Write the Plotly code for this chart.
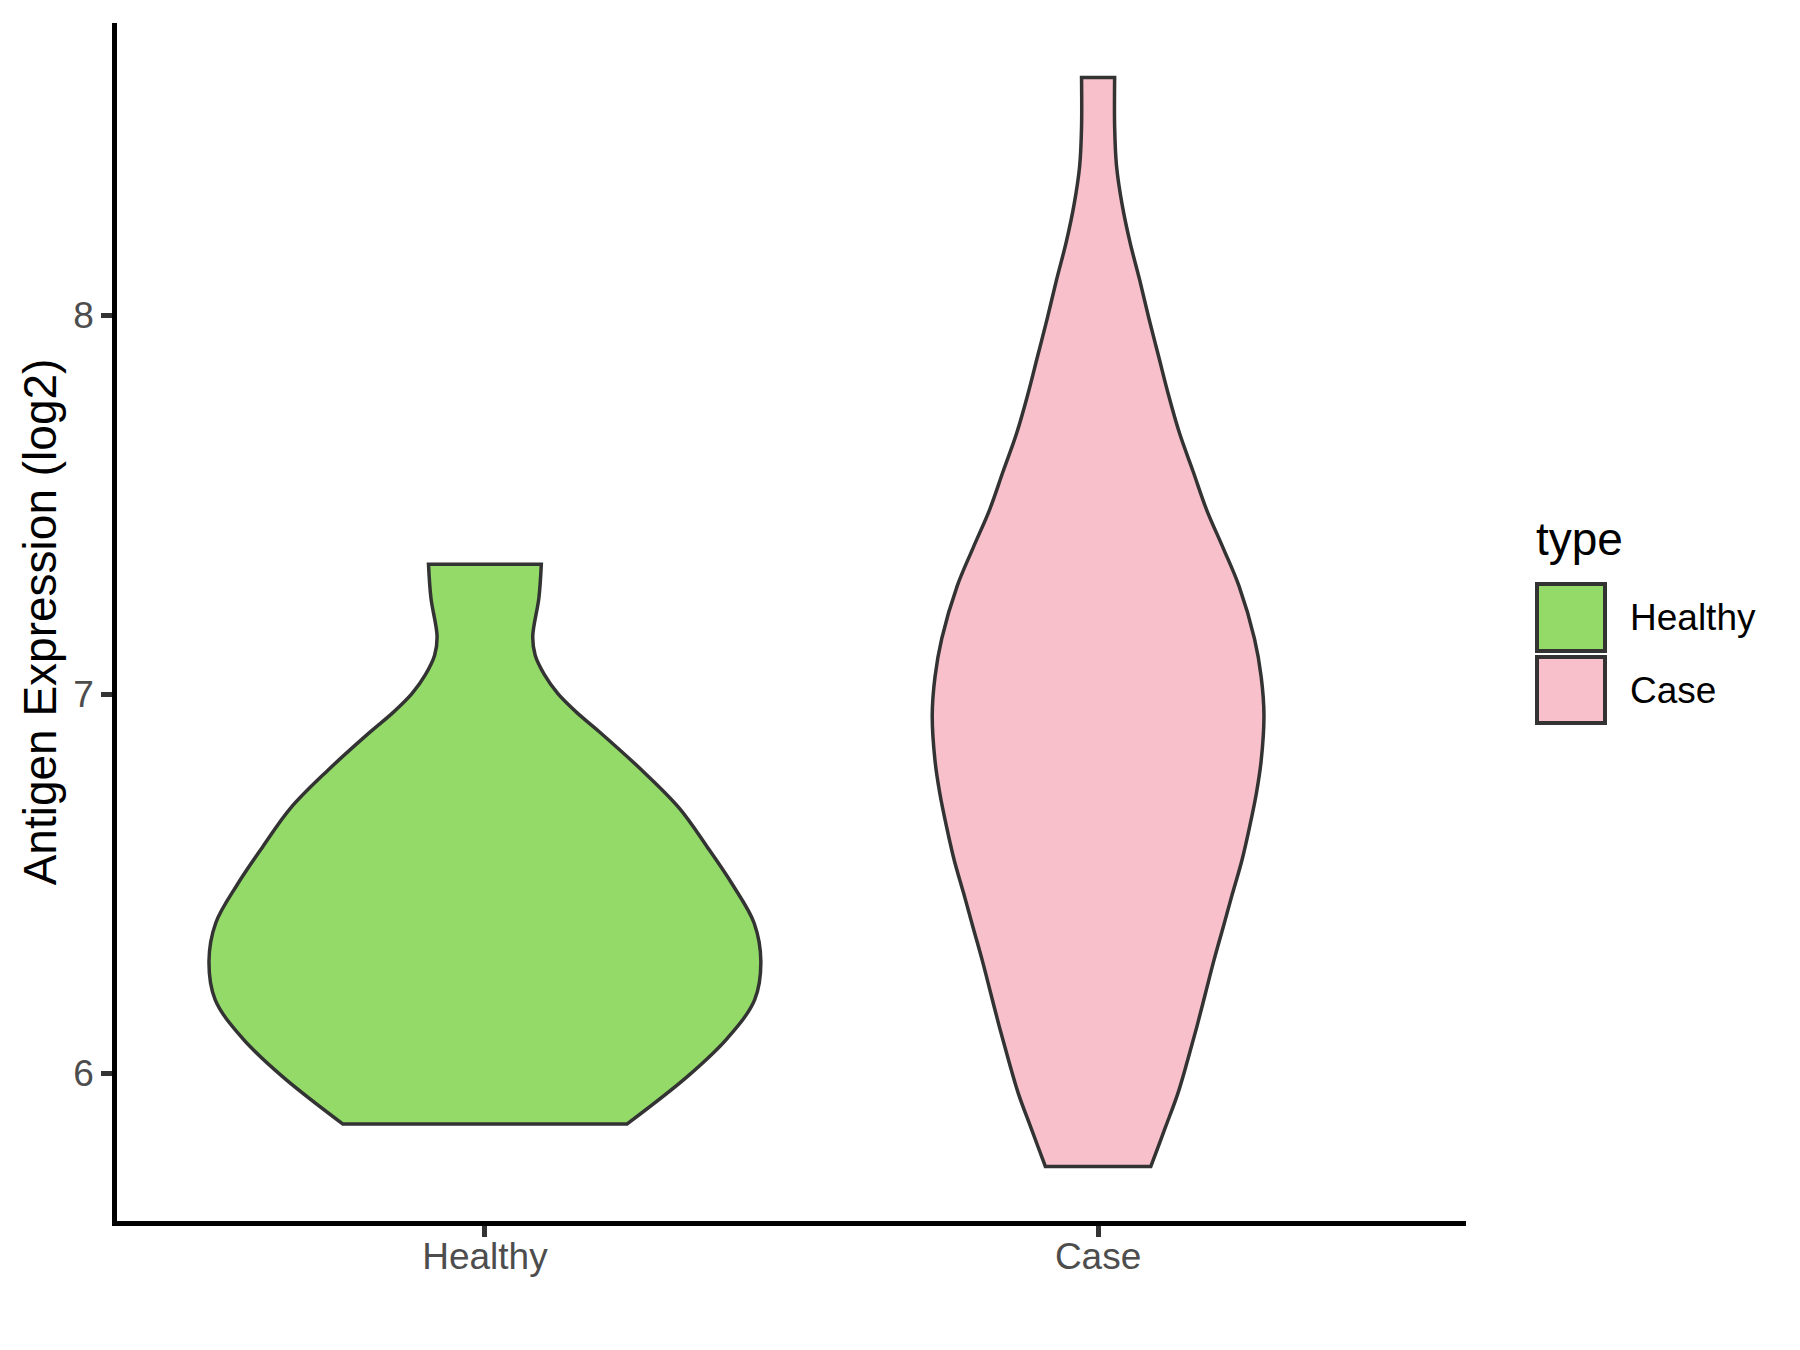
import plotly.graph_objects as go

# ---- data ----
categories = ["Healthy", "Case"]
cat_pos = [1, 2]
fill_colors = ["#93DA69", "#F7C0CB"]

healthy_y = [5.867, 5.993, 6.094, 6.195, 6.296, 6.397, 6.498, 6.599, 6.700, 6.800,
             6.901, 6.952, 7.002, 7.052, 7.103, 7.153, 7.254, 7.343]
healthy_hw = [0.232, 0.331, 0.396, 0.440, 0.450, 0.439, 0.404, 0.362, 0.317, 0.256,
              0.187, 0.150, 0.119, 0.097, 0.082, 0.078, 0.088, 0.092]

case_y = [5.755, 5.859, 5.947, 6.035, 6.123, 6.211, 6.299, 6.386, 6.474, 6.562,
          6.650, 6.738, 6.826, 6.945, 7.046, 7.147, 7.285, 7.386, 7.487, 7.588,
          7.688, 7.789, 7.890, 7.991, 8.092, 8.193, 8.294, 8.395, 8.496, 8.627]
case_hw = [0.086, 0.110, 0.130, 0.146, 0.161, 0.175, 0.189, 0.204, 0.219, 0.2345,
           0.247, 0.258, 0.266, 0.2705, 0.266, 0.255, 0.230, 0.204, 0.177, 0.155,
           0.133, 0.115, 0.099, 0.083, 0.068, 0.052, 0.039, 0.030, 0.027, 0.027]

y_ticks = [6, 7, 8]
y_range = [5.611, 8.771]
x_range = [0.4, 2.6]
y_title = "Antigen Expression (log2)"
legend_title = "type"

# ---- figure (page has an 8px body margin, so the figure is 8px smaller) ----
OFF = 8
W, H = 1800 - OFF, 1350 - OFF
ML, MR, MT, MB = 117 - OFF, 334, 23 - OFF, 129
PW = W - ML - MR
PH = H - MT - MB


def paper_x(px):  # px in page pixels
    return (px - OFF - ML) / PW


def paper_y(py):
    return (H - MB - (py - OFF)) / PH


fig = go.Figure()

for pos, ys, hws, col, name in zip(cat_pos, [healthy_y, case_y], [healthy_hw, case_hw],
                                   fill_colors, categories):
    right_x = [pos + w for w in hws]
    left_x = [pos - w for w in reversed(hws)]
    # duplicate the corner points so the flat top and bottom stay straight
    xs = [right_x[0]] + right_x + [right_x[-1]] + [left_x[0]] + left_x + [left_x[-1]] + [right_x[0], right_x[0]]
    yy = [ys[0]] + list(ys) + [ys[-1]] + [ys[-1]] + list(reversed(ys)) + [ys[0]] + [ys[0], ys[0]]
    fig.add_trace(go.Scatter(
        x=xs, y=yy, mode="lines", fill="toself", fillcolor=col,
        line=dict(color="#333333", width=3.5, shape="spline", smoothing=1.0),
        name=name, showlegend=False, hoverinfo="skip",
    ))

fig.update_layout(
    width=W, height=H,
    margin=dict(l=ML, r=MR, t=MT, b=MB, pad=0),
    paper_bgcolor="white", plot_bgcolor="white",
    font=dict(family="Liberation Sans, Arial, sans-serif", color="#000000"),
    showlegend=False,
    xaxis=dict(
        range=x_range, tickvals=cat_pos, ticktext=categories,
        showgrid=False, zeroline=False,
        showline=True, linecolor="black", linewidth=4.5,
        ticks="outside", ticklen=11, tickwidth=4.5, tickcolor="#333333",
        tickfont=dict(size=37, color="#4D4D4D"), ticklabelstandoff=-12,
    ),
    yaxis=dict(
        range=y_range, tickvals=y_ticks, ticktext=[str(t) for t in y_ticks],
        showgrid=False, zeroline=False,
        showline=True, linecolor="black", linewidth=4.5,
        ticks="outside", ticklen=11, tickwidth=4.5, tickcolor="#333333",
        tickfont=dict(size=37, color="#4D4D4D"),
        title=dict(text=y_title, font=dict(size=46, color="black"), standoff=4),
    ),
)

# ---- manual legend (ggplot style) ----
box_x0, box_x1 = 1537, 1605
box_rows = [(584, 651), (657, 723)]
for (y0, y1), col in zip(box_rows, fill_colors):
    fig.add_shape(type="rect", xref="paper", yref="paper",
                  x0=paper_x(box_x0), x1=paper_x(box_x1),
                  y0=paper_y(y1), y1=paper_y(y0),
                  fillcolor=col, line=dict(color="#333333", width=4))

fig.add_annotation(x=paper_x(1534), y=paper_y(539), xref="paper", yref="paper",
                   text=legend_title, showarrow=False, xanchor="left", yanchor="middle",
                   font=dict(size=46, color="black"))
for (y0, y1), name in zip(box_rows, categories):
    fig.add_annotation(x=paper_x(1628), y=paper_y((y0 + y1) / 2), xref="paper", yref="paper",
                       text=name, showarrow=False, xanchor="left", yanchor="middle",
                       font=dict(size=37, color="black"))

fig.write_html("out.html")
